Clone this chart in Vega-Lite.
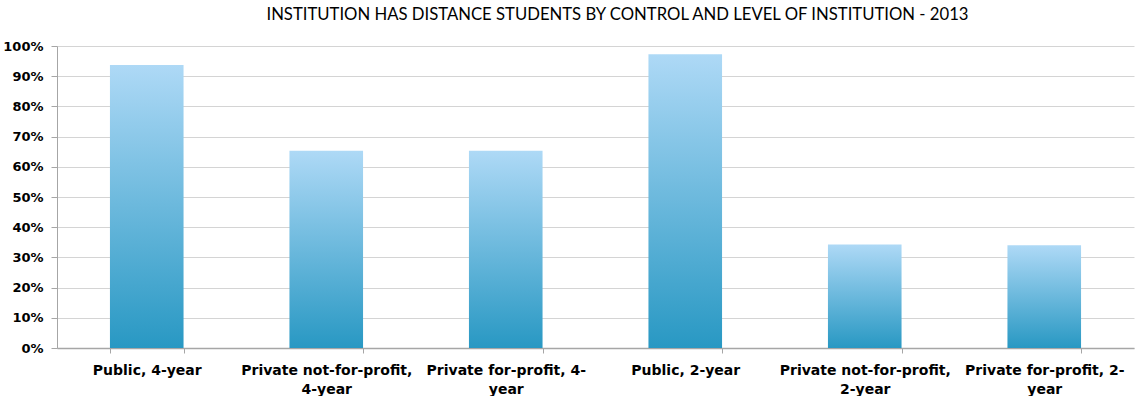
{
  "$schema": "https://vega.github.io/schema/vega-lite/v6.json",
  "autosize": {"type": "none"},
  "width": 1077,
  "height": 302,
  "padding": {"left": 57, "top": 46, "right": 1, "bottom": 48},
  "background": "white",
  "title": {
    "text": "INSTITUTION HAS DISTANCE STUDENTS BY CONTROL AND LEVEL OF INSTITUTION - 2013",
    "font": "Lato",
    "fontSize": 16.7,
    "fontWeight": "normal",
    "color": "#000000",
    "anchor": "middle",
    "dx": 22,
    "offset": 16
  },
  "data": {
    "values": [
      {"category": "Public, 4-year", "value": 0.937},
      {"category": "Private not-for-profit, 4-year", "value": 0.653},
      {"category": "Private for-profit, 4-year", "value": 0.653},
      {"category": "Public, 2-year", "value": 0.973},
      {"category": "Private not-for-profit, 2-year", "value": 0.343},
      {"category": "Private for-profit, 2-year", "value": 0.34}
    ]
  },
  "mark": {
    "type": "bar",
    "color": {
      "gradient": "linear",
      "x1": 0, "y1": 0, "x2": 0, "y2": 1,
      "stops": [
        {"offset": 0, "color": "#AED9F6"},
        {"offset": 1, "color": "#2898C3"}
      ]
    }
  },
  "encoding": {
    "x": {
      "field": "category",
      "type": "nominal",
      "sort": null,
      "scale": {"paddingInner": 0.59, "paddingOuter": 0.295},
      "axis": {
        "title": null,
        "labelAngle": 0,
        "labelFont": "DejaVu Sans",
        "labelFontWeight": "bold",
        "labelFontSize": 14,
        "labelColor": "#000000",
        "labelPadding": 10,
        "labelLineHeight": 19,
        "labelLimit": 0,
        "labelOverlap": false,
        "tickBand": "extent",
        "tickColor": "#a6a6a6",
        "tickSize": 5,
        "domainColor": "#a6a6a6",
        "domainWidth": 1.5,
        "labelExpr": "datum.value == 'Private not-for-profit, 4-year' ? ['Private not-for-profit,', '4-year'] : datum.value == 'Private for-profit, 4-year' ? ['Private for-profit, 4-', 'year'] : datum.value == 'Private not-for-profit, 2-year' ? ['Private not-for-profit,', '2-year'] : datum.value == 'Private for-profit, 2-year' ? ['Private for-profit, 2-', 'year'] : datum.value"
      }
    },
    "y": {
      "field": "value",
      "type": "quantitative",
      "scale": {"domain": [0, 1], "nice": false},
      "axis": {
        "title": null,
        "format": ".0%",
        "values": [0, 0.1, 0.2, 0.3, 0.4, 0.5, 0.6, 0.7, 0.8, 0.9, 1],
        "labelOverlap": false,
        "labelFont": "DejaVu Sans",
        "labelFontWeight": "bold",
        "labelFontSize": 13,
        "labelColor": "#000000",
        "labelPadding": 8,
        "tickColor": "#a6a6a6",
        "tickSize": 6,
        "domainColor": "#a6a6a6",
        "gridColor": "#d4d4d4",
        "gridWidth": 1
      }
    }
  },
  "config": {"view": {"stroke": null}}
}
